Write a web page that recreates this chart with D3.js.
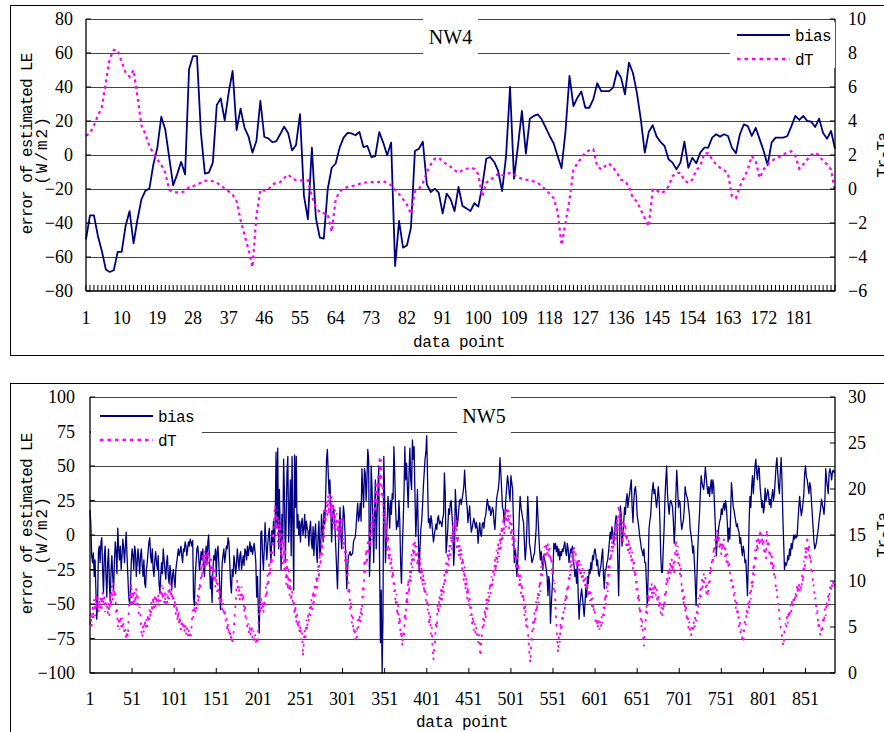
<!DOCTYPE html>
<html><head><meta charset="utf-8">
<script src="https://cdn.jsdelivr.net/npm/d3@7"></script>
<style>body{margin:0;background:#fff}svg{display:block}</style>
</head><body>
<svg id="chart" width="884" height="732"></svg>
<script>
// ---------------- DATA ----------------
const nw4Bias = [
-49.6,-35.5,-35.5,-47.6,-56.5,-67.3,-68.8,-67.8,-57,-57,
-41.6,-33,-52,-37.8,-26,-21,-19.8,-5.5,4.3,22.5,
15,-1.5,-17.8,-11.4,-4,-11.4,50.4,58.2,58.2,13,
-11,-10.4,-4.5,29.4,33.3,20.4,36.7,49.4,14.7,27.3,
16,11,1.4,8.2,31.8,10.6,9.8,7.6,8,12.2,
16.7,13,2.7,5.9,24,-24,-37.8,4.3,-36.9,-48.6,
-49.2,-20,-7.5,-5,4.3,10.2,13,12.7,11.6,13.5,
4.7,5.3,-1.2,-0.6,13.5,7.3,-0.2,7.3,-65.3,-38.8,
-54.5,-53.1,-42.7,2.4,3.7,7.8,-17.3,-21.8,-19.8,-22.2,
-34.3,-22.7,-26,-33,-18.8,-30,-31.4,-33,-28.4,-30.4,
-18.2,-2.2,-1.2,-4.1,-9.4,-21.2,-0.6,40,-13.9,5.3,
25.9,0.8,21.4,23,23.9,21,16.1,11.2,6.9,-0.6,
-7.8,14.1,46.5,28.8,33.7,37.3,27.8,27.8,32.7,42.2,
37.6,37.6,37.6,39.6,49.4,45.5,35.7,54.3,48.4,36.7,
21,1.4,13.5,17.5,10.8,7.6,5.3,-2.5,-4.5,-8.4,
-4.5,7.8,-7.5,-1.6,-4.9,1.4,4.3,4.3,10.2,12.2,
10.8,12.2,11.2,4.3,1,12.2,18,17,11.2,16,
9.2,2.4,-6,7.3,10.2,10.2,10.2,11.2,17,23,
20.6,23,20,19.6,16.5,21.4,13,9.6,14.1,3.7];

const nw4DT = [
3.13,3.29,3.72,4.32,4.81,6.26,7.68,8.18,8.16,7.49,
6.85,6.6,7.0,5.41,3.72,3.23,2.53,2.1,1.74,1.41,
0.95,-0.04,-0.18,-0.2,-0.2,-0.14,0.1,0.16,0.28,0.36,
0.48,0.51,0.46,0.36,0.22,0.02,-0.14,-0.34,-0.73,-1.82,
-2.71,-3.56,-4.6,-1.6,-0.04,-0.1,-0.04,0.26,0.36,0.4,
0.65,0.85,0.65,0.51,0.51,0.51,0.51,-0.44,-1.03,-1.39,
-1.43,-1.47,-2.51,-0.63,-0.14,0.02,0.12,0.16,0.22,0.3,
0.36,0.4,0.4,0.4,0.42,0.46,0.36,0.22,-0.04,-0.3,
-0.6,-0.93,-1.47,-0.14,0,0.36,0.99,1.45,1.78,1.84,
1.64,1.45,1.31,1.11,0.95,1.11,1.19,1.23,1.19,0.85,
-0.44,0.36,0.59,0.65,0.91,0.81,0.85,0.95,0.85,0.69,
0.61,0.55,0.51,0.44,0.36,0.16,-0.04,-0.28,-0.53,-1.33,
-3.3,-2.0,-0.63,1.15,1.5,1.84,2.14,2.28,2.34,1.35,
1.15,1.35,1.5,1.25,0.95,0.55,0.46,0.16,-0.53,-0.73,
-1.23,-1.72,-2.2,-0.04,-0.08,-0.24,-0.14,0.16,0.75,0.95,
0.95,0.51,0.36,0.55,1.11,1.35,2.1,2.1,1.74,1.45,
1.25,1.11,0.91,-0.44,-0.53,0.16,0.65,1.15,1.94,1.64,
0.65,1.15,1.45,1.64,1.8,1.9,2.04,2.14,2.22,1.94,
1.19,1.45,1.74,2,2.14,1.98,1.64,1.45,1.15,-0.2];

const nw5Bias = [
18,8,-15,-20,-13,-30,-18,-40,-61,-50,-12,-8,-20,-5,-2,-25,-42,-15,-8,-30,
-45,-20,-10,-35,-48,-25,-15,-30,-40,-20,-5,-12,-28,5,-10,-18,-8,-25,-15,-3,
-10,-20,-8,2,-15,-30,-45,-50,-40,-20,-10,-15,-25,-8,-12,-30,-20,-10,-18,-28,
-15,-10,-22,-30,-18,-35,-38,-25,-20,-12,-5,-2,-15,-20,-10,-25,-30,-18,-12,-20,
-25,-15,-35,-42,-30,-20,-28,-10,-18,-25,-32,-20,-15,-30,-35,-22,-28,-40,-30,-25,
-32,-38,-25,-20,-15,-10,-15,-12,-8,-15,-20,-10,-12,-5,-8,-15,-10,-5,-8,-3,
-5,-8,-4,-45,-51,-30,-20,-10,-8,-15,-25,-20,-12,-18,-10,-25,-30,-15,-8,-20,
-5,0,-20,-39,-30,-49,-25,-15,-18,-10,-30,-12,-8,-20,-35,-54,-40,-20,-15,-10,
-20,-15,-8,-10,-2,-5,-20,-35,-42,-25,-30,-15,-20,-28,-22,-10,-18,-25,-15,-12,
-25,-20,-15,-22,-10,-12,-18,-8,-15,-10,-5,-12,-8,-14,-10,-6,-12,-20,-45,-30,
-55,-71,-40,2,3,-15,-25,-10,9,-5,-18,-8,0,5,-10,-20,3,-5,10,-15,
10,60,5,63,-10,33,0,-25,15,-5,55,30,-20,10,45,57,-5,15,40,-15,
57,10,-40,58,20,57,5,15,0,10,-5,8,12,0,5,15,-2,10,5,3,
-8,5,10,-5,-10,6,-15,2,8,-12,-20,0,10,-15,-10,15,5,-5,18,8,
30,55,62,45,30,40,20,-5,10,20,15,5,-10,-25,-39,-15,5,20,0,-10,
5,21,15,0,-20,-39,-25,-15,-14,-12,-15,-14,-13,-5,-3,-2,5,15,23,10,
14,23,10,48,33,20,48,45,25,40,62,55,-30,-10,50,35,10,-20,15,40,
-10,14,30,50,-20,-78,-40,-100,-60,57,30,-20,-5,10,28,20,5,25,15,30,
26,64,45,20,4,10,6,25,10,-20,-35,-10,9,30,64,40,52,35,20,45,
63,40,33,69,55,64,30,-1,15,33,0,-27,-10,4,10,21,35,45,55,60,
72,40,9,12,5,14,10,2,-5,0,4,8,4,12,14,8,10,9,6,12,
15,45,30,-13,-5,4,19,15,23,25,14,5,-22,-10,33,20,6,10,18,25,
26,22,26,30,35,47,35,26,20,9,15,21,10,2,5,9,12,9,5,9,
5,-6,3,9,0,-1,8,9,5,12,14,20,26,22,18,21,14,16,20,18,
9,4,15,26,30,33,40,56,45,33,20,18,9,15,26,35,43,38,30,25,
43,38,33,10,-20,-10,-15,-30,-20,-3,15,28,20,16,12,9,-5,-18,-10,5,
28,15,-6,-10,-15,-20,-18,-15,-13,-5,5,28,15,2,-10,-18,-12,-20,-25,-15,
-18,-20,-25,-30,-44,-30,-35,-64,-50,-39,-25,-6,-10,-6,-12,-8,-15,-10,-18,-12,
-15,-10,-12,-8,-5,-12,-15,-6,-10,-20,-15,-10,-13,-8,-18,-22,-30,-25,-35,-20,
-45,-61,-50,-44,-39,-45,-52,-59,-50,-38,-45,-30,-35,-25,-28,-20,-25,-15,-18,-12,
-10,-15,-22,-18,-28,-30,-25,-22,-15,-10,-30,-39,-25,-25,-20,-18,-12,-5,2,-3,
6,2,-6,-2,9,14,8,-20,-44,-10,21,15,-8,0,9,20,15,25,30,20,
26,30,35,40,20,9,25,33,35,28,14,10,5,-1,-5,-10,-12,-15,-10,-20,
-20,-35,-51,-30,4,10,14,25,33,38,30,33,26,20,26,35,28,10,-15,-27,
-27,-10,5,26,40,50,30,21,15,23,25,23,20,10,-6,5,30,47,35,20,
25,23,10,4,8,11,20,35,30,28,26,20,15,4,0,-5,-13,-8,-20,-35,
-51,-30,-10,4,15,30,43,38,35,33,40,49,42,35,30,35,28,35,40,30,
40,35,19,5,-15,-5,0,6,10,12,19,15,20,23,18,25,20,10,-5,5,
-3,15,38,30,21,18,14,10,6,8,4,2,-6,-2,-10,-15,-8,-12,-20,-18,
-30,-44,-20,10,28,20,35,43,30,40,50,55,45,40,50,48,35,28,20,25,
16,20,34,25,28,33,30,22,26,20,28,33,25,30,40,50,56,45,35,30,
45,56,40,14,-5,-25,-20,-22,-20,-15,-18,-10,-15,-6,-10,-5,0,-3,0,-2,
-1,10,20,28,20,14,18,23,30,45,50,42,40,35,30,38,35,25,15,5,
-5,-10,-8,-5,0,4,10,15,20,26,22,19,15,25,48,40,35,30,45,48,
45,40,46,47,45,46];

const nw5DT = [
5.3,6.5,5,7.2,5.8,8,6.2,8.6,7,8.3,6.5,8,6.8,8.4,7,8.8,7.5,8.3,6.6,7.8,
7.6,6.4,7.7,6.2,8.8,7.2,9.5,7.8,9.8,8.2,9,6.5,7,5,5.8,4.7,6.2,5,6,5.2,
5.4,4.2,4.8,3.6,4.6,3.9,6.5,8.9,7.2,9.8,7.5,9,7.2,8.8,7.6,9.2,7.4,8.3,6.4,7.2,
6.2,4.5,3.8,5.2,4.4,5.8,4.8,5.9,5,6.4,5.4,7,6,7.8,6.6,8.3,7,8.6,7.2,8.4,
7.4,8.6,7.2,9.2,7.8,9.6,8,9.3,7.6,8.8,7.4,8.6,7.5,9,8,9.8,8.2,9.4,7.8,8.6,
7,8,6.3,7.4,5.6,6.8,5.2,6.2,4.6,5.8,4.8,5.6,4.4,5.3,4.2,5,4,4.8,3.9,4.5,
4,5.6,6.9,6,7.4,6.4,7.8,6.8,8.6,7.6,9.8,9,11.8,10.2,13,11.4,13.4,11.6,13,11.5,
13.4,11.8,12.9,11,12.4,10.3,11.6,9.8,11.2,9.3,10.4,8.8,9.8,8,9.2,7.4,8.4,6.8,7.6,6.2,
7,5.6,6.2,4.6,5.4,4.1,4.8,3.6,4.2,3.1,3.9,5,6.6,7.4,9.4,10.1,8.4,9.6,7.8,8.8,
9.4,7.8,8.6,6.6,7.4,5.6,6,4.8,5.4,4.2,5,4,5.2,3.8,4.6,3.5,4.2,3.3,3.9,3.1,
5.2,7.6,6.4,8.3,6.8,7.8,6.5,8,7,9.4,8.2,10.7,9.4,12.2,10.6,13.2,11.8,15.4,14,17.5,
18.3,15.6,17.8,14.2,16.8,13.5,16.3,12.6,15.2,11.8,14.4,10.8,13.6,9.6,12.4,9,11.6,8.4,10.2,7.8,
9,7.2,8,6.3,7.4,5.4,6.4,4.8,5.8,4.3,5.2,3.6,4.4,1.8,3.4,4.7,3.8,5.8,4.6,6.4,
5.6,7.2,6.2,8,6.8,9,7.6,9.8,8.4,10.6,9.2,11.8,10.2,13.2,11.6,14.8,12.8,16.3,14.6,17.8,
16.4,18.8,16.8,19.4,17.2,19.6,16.8,19.2,16.2,18.5,15.6,17.8,15.8,17.4,14.8,16.6,14.2,16.8,15,17,
15.6,13.4,15,12,13.4,10.5,11.6,8.5,9.4,6.8,7.8,5.4,6.2,4.4,5,3.6,4.6,3.8,5.8,4.9,
6.4,5.4,7.2,6.2,9.6,8.2,12.4,10.6,13.5,11.8,14.6,12.8,15.6,13.6,16.5,14.4,17.6,15.6,19.2,17.4,
20.5,18.2,21.4,19,23.6,20.4,23.2,18.5,20.2,16.2,17.8,14.4,16.4,13,15,12.2,13.6,11,12.6,10.2,
11.2,8.8,9.8,7.4,8.6,6.2,7.4,5.2,6.2,4,4.6,2.9,4.4,3.8,6.6,5.6,8.8,7.4,10.2,8.6,
11.2,9.8,13,11.4,14.1,12.2,14.4,12.4,13.8,11.6,13.2,11,12.6,10.2,11.6,9.4,10.8,8.6,9.8,7.8,
8.6,6.8,7.6,5.2,6.4,4.2,5,2.5,1.4,2.8,3.6,5.6,4.8,7.6,6.4,8.4,7.2,9.2,7.8,9.6,
8.6,10.8,9.6,12,10.6,13.2,11.6,14,12.4,15,13.4,16,14.2,17,15.4,16.6,13.6,15,12.6,14,
12.2,13.6,11.2,12.6,10,11.6,9,10.4,8,9.4,7.2,8.2,6.2,7.2,5.2,6.2,4.6,5.4,4.2,5,
4,3.3,4.2,2.5,1.8,3.8,4.7,6,5,7,5.8,8.2,6.8,8.8,7.6,9.8,8.6,10.5,9.4,11.5,
10.4,12.4,11,13.4,11.8,14.2,12.6,15.2,13.4,16,14.2,17,15,17.8,15.8,18.1,16.4,17.8,15.6,17.2,
14.8,16.3,13.8,15.6,12.6,14.4,11.2,13,10.2,12,9.4,10.8,8.6,9.8,7.4,8.6,6.2,7.4,5,6,
4.7,3.4,2.2,1.1,3,4,5.6,4.7,6.6,5.4,7.8,6.6,8.8,7.6,10,8.8,11.6,10.2,12.8,11.6,
13.8,12.4,14.1,12.8,14.1,12.6,13.6,12,12.7,10.6,11.4,9,9.8,7.3,5.4,3.8,2.2,4,3.3,5.5,
4.5,6.4,5.8,7.6,6.9,8.6,7.8,9.6,8.8,11.2,10,12.3,11,13.4,12,13.8,12.2,13,11.4,12.4,
11,12.4,10.6,11.8,10.2,11.4,9.8,11,9.4,10.4,8.8,9.8,8.2,9.2,7.8,8.8,7.2,8.2,6.6,7.2,
6.2,5.2,6,4.8,5.8,4.7,5.6,4.9,6.2,5.4,7.2,6.2,8.6,7.4,10,8.8,12,10.6,13.4,12.2,
14.4,13,15.2,13.8,16.2,14.4,17,15.4,18.3,16.2,17.6,14.8,16.4,14,16.6,14.6,16.3,13.8,15.2,13.2,
14.6,12.8,14,12,13.2,11.2,12.4,10.4,11.2,9,10,7.8,8.6,6.4,7.2,5,5.8,3.8,2.9,4.5,
5.4,7.4,6.4,8.6,7.6,9.6,8.2,9.8,8,9.4,8.6,9.8,8.4,9.2,7.6,8.6,7,8,6.4,7.2,
6.2,7.6,7,9,8.2,10.4,9.6,11.4,10.2,12,10.8,12.4,11,12.2,10.6,13.2,14.5,12.6,13.8,11.8,
12.6,10.6,11.4,8.8,9.4,7.4,8.4,6.6,7.4,5.6,6.4,4.8,5.6,4.3,4,5,4.4,5.6,4.8,6.2,
5.6,7,6.4,8.2,7.4,9.2,8.2,10.2,9.2,10.8,9.8,10.5,8.6,9.6,8.3,10,9.6,11.6,10.8,12.6,
11.8,13.8,12.6,15,13.8,15.6,14,15,13.4,14.4,12.8,14.2,13.4,14.6,12.6,13.6,12,13,11.4,12.2,
11.2,10,10.5,9.2,9.8,8.2,8.8,7,7.8,6.2,6.8,5,5.6,4.2,4.8,3.6,3.3,4.8,5.8,5.2,
6.9,6.2,7.8,7,8.8,8,10.1,9.2,11.6,10.6,13.4,12,14.5,13.2,14.9,13.8,15.6,14.2,15.2,13.8,
14.6,13,13.4,12.4,15.6,13.6,14.5,12.6,13.4,11.8,12.7,11.2,12,10.2,10.5,8.8,9.1,7.4,7.6,6,
5.4,4.4,4,3.2,2.9,4.6,5.4,4.8,6.2,5.4,6.8,6,7.4,6.6,8,7.2,8.4,7.6,8.8,8,
9.6,8.6,9.8,8.8,9.6,9,10.8,9.8,12.2,11,13.8,12.4,14.9,13,14,12.2,12.8,10.8,11.2,9.4,
9.6,8,8.2,6.4,7,5,5.6,4.3,4,5,4.6,6.2,5.4,7,6.2,7.8,7,8.6,7.8,9.4,
8.8,9.8,9.2,10,9.4,9.8];

const nw4LeftTicks = [-80,-60,-40,-20,0,20,40,60,80];
const nw4RightTicks = [-6,-4,-2,0,2,4,6,8,10];
const nw4XLabels = [1,10,19,28,37,46,55,64,73,82,91,100,109,118,127,136,145,154,163,172,181];
const nw5LeftTicks = [-100,-75,-50,-25,0,25,50,75,100];
const nw5RightTicks = [0,5,10,15,20,25,30];
const nw5XLabels = [1,51,101,151,201,251,301,351,401,451,501,551,601,651,701,751,801,851];
const seriesNames = ["bias","dT"];
const yTitle = ["error of estimated LE","(W/m2)"];
const y2Title = "Tr-Ta";
const xTitle = "data point";

// ---------------- DRAW ----------------
const serif = '"Liberation Serif","Times New Roman",serif';
const mono = '"Liberation Mono","DejaVu Sans Mono",monospace';
const svg = d3.select("#chart");
const BIAS_COLOR = "#000080", DT_COLOR = "#ff00ff";
const fmt = v => String(v).replace("-", "\u2212");

function panel(p) {
  const g = svg.append("g");
  const n = p.bias.length;
  const x = d3.scaleLinear().domain([1, n]).range([p.left, p.right]);
  const yL = d3.scaleLinear().domain(d3.extent(p.leftTicks)).range([p.bottom, p.top]);
  const yR = d3.scaleLinear().domain(d3.extent(p.rightTicks)).range([p.bottom, p.top]);

  g.append("rect").attr("x", 10.5).attr("y", p.frameY + 0.5).attr("width", 900).attr("height", p.frameH)
    .attr("fill", "none").attr("stroke", "#000").attr("stroke-width", 1);

  // gridlines
  g.append("g").selectAll("line").data(p.leftTicks.slice(1)).join("line")
    .attr("x1", p.left).attr("x2", p.right)
    .attr("y1", d => Math.round(yL(d)) + 0.5).attr("y2", d => Math.round(yL(d)) + 0.5)
    .attr("stroke", "#444").attr("stroke-width", 1);

  // series
  const lb = d3.line().x((d, i) => x(i + 1)).y(d => yL(d));
  const lt = d3.line().x((d, i) => x(i + 1)).y(d => yR(d));
  g.append("path").datum(p.bias).attr("d", lb).attr("fill", "none")
    .attr("stroke", BIAS_COLOR).attr("stroke-width", p.biasW).attr("stroke-linejoin", "round");
  g.append("path").datum(p.dT).attr("d", lt).attr("fill", "none")
    .attr("stroke", DT_COLOR).attr("stroke-width", p.dtW).attr("stroke-dasharray", p.dash);

  // axes lines
  const ax = g.append("g").attr("stroke", "#000").attr("stroke-width", 1.3);
  ax.append("line").attr("x1", p.left).attr("x2", p.left).attr("y1", p.top).attr("y2", p.bottom);
  ax.append("line").attr("x1", p.right).attr("x2", p.right).attr("y1", p.top).attr("y2", p.bottom);
  ax.append("line").attr("x1", p.left).attr("x2", p.right).attr("y1", p.bottom).attr("y2", p.bottom);
  ax.selectAll(".lt").data(p.leftTicks).join("line").attr("stroke-width", 1)
    .attr("x1", p.left).attr("x2", p.left + 5).attr("y1", d => yL(d)).attr("y2", d => yL(d));
  ax.selectAll(".rt").data(p.rightTicks).join("line").attr("stroke-width", 1)
    .attr("x1", p.right - 5).attr("x2", p.right).attr("y1", d => yR(d)).attr("y2", d => yR(d));
  ax.selectAll(".xt").data(p.xTicks).join("line").attr("stroke-width", 1)
    .attr("x1", d => x(d)).attr("x2", d => x(d)).attr("y1", p.bottom).attr("y2", p.bottom - p.xTickLen);

  // tick labels
  const tl = g.append("g").attr("font-family", serif).attr("font-size", 18).attr("fill", "#000");
  tl.selectAll(".yl").data(p.leftTicks).join("text").attr("x", p.left - p.lOff).attr("y", d => yL(d))
    .attr("dy", "0.36em").attr("text-anchor", "end").text(fmt);
  tl.selectAll(".yr").data(p.rightTicks).join("text").attr("x", p.right + 13).attr("y", d => yR(d))
    .attr("dy", "0.36em").attr("text-anchor", "start").text(fmt);
  tl.selectAll(".xl").data(p.xLabels).join("text").attr("x", d => x(d)).attr("y", p.xLabelY)
    .attr("text-anchor", "middle").text(d => d);

  // axis titles
  g.append("text").attr("transform", `translate(32,${p.yTitleC1}) rotate(-90)`).attr("text-anchor", "middle")
    .attr("font-family", mono).attr("font-size", 16).attr("letter-spacing", -1).text(yTitle[0]);
  g.append("text").attr("transform", `translate(47,${p.yTitleC2}) rotate(-90)`).attr("text-anchor", "middle")
    .attr("font-family", mono).attr("font-size", 16).attr("letter-spacing", 2).text(yTitle[1]);
  g.append("text").attr("transform", `translate(888,${(p.top + p.bottom) / 2}) rotate(-90)`).attr("text-anchor", "middle")
    .attr("font-family", mono).attr("font-size", 16).attr("letter-spacing", -0.6).text(y2Title);
  g.append("text").attr("x", p.xTitleX).attr("y", p.xTitleY).attr("text-anchor", "middle")
    .attr("font-family", mono).attr("font-size", 16).attr("letter-spacing", -0.4).text(xTitle);

  // chart title box
  g.append("rect").attr("x", p.titleBox[0]).attr("y", p.titleBox[1]).attr("width", p.titleBox[2]).attr("height", p.titleBox[3]).attr("fill", "#fff");
  g.append("text").attr("x", p.titleBox[0] + p.titleBox[2] / 2).attr("y", p.titleY).attr("text-anchor", "middle")
    .attr("font-family", serif).attr("font-size", 20).text(p.title);

  // legend
  const L = p.legend;
  g.append("rect").attr("x", L.box[0]).attr("y", L.box[1]).attr("width", L.box[2]).attr("height", L.box[3]).attr("fill", "#fff");
  const lg = g.append("g");
  lg.append("line").attr("x1", L.x1).attr("x2", L.x2).attr("y1", L.y[0]).attr("y2", L.y[0])
    .attr("stroke", BIAS_COLOR).attr("stroke-width", 1.8);
  lg.append("line").attr("x1", L.x1).attr("x2", L.x2).attr("y1", L.y[1]).attr("y2", L.y[1])
    .attr("stroke", DT_COLOR).attr("stroke-width", 2.5).attr("stroke-dasharray", "3.5,4");
  lg.selectAll("text").data(seriesNames).join("text").attr("x", L.tx).attr("y", (d, i) => L.y[i] + 6)
    .attr("font-family", mono).attr("font-size", 16).attr("letter-spacing", -0.6).text(d => d);
}

panel({
  bias: nw4Bias, dT: nw4DT, leftTicks: nw4LeftTicks, rightTicks: nw4RightTicks, xLabels: nw4XLabels,
  xTicks: d3.range(1, nw4Bias.length + 1), xTickLen: 6,
  left: 86, right: 835, top: 19, bottom: 291, frameY: 5, frameH: 350, biasW: 1.8, dtW: 2.2, lOff: 13, dash: "3,3.5",
  xLabelY: 324, xTitleX: 459, xTitleY: 347, yTitleC1: 144, yTitleC2: 150,
  titleBox: [423, 10, 55, 48], titleY: 44, title: "NW4",
  legend: { box: [730, 22, 105, 46], x1: 737, x2: 790, tx: 795, y: [35, 59] }
});

panel({
  bias: nw5Bias, dT: nw5DT, leftTicks: nw5LeftTicks, rightTicks: nw5RightTicks, xLabels: nw5XLabels,
  xTicks: nw5XLabels.slice(1), xTickLen: 5,
  left: 90, right: 835, top: 397, bottom: 673, frameY: 383, frameH: 400, biasW: 1.3, dtW: 1.8, lOff: 15, dash: "2.5,6",
  xLabelY: 705, xTitleX: 462, xTitleY: 727, yTitleC1: 524, yTitleC2: 530,
  titleBox: [457, 389, 54, 50], titleY: 423, title: "NW5",
  legend: { box: [91, 401, 111, 50], x1: 100, x2: 153, tx: 158, y: [416, 440] }
});
</script>
</body></html>
